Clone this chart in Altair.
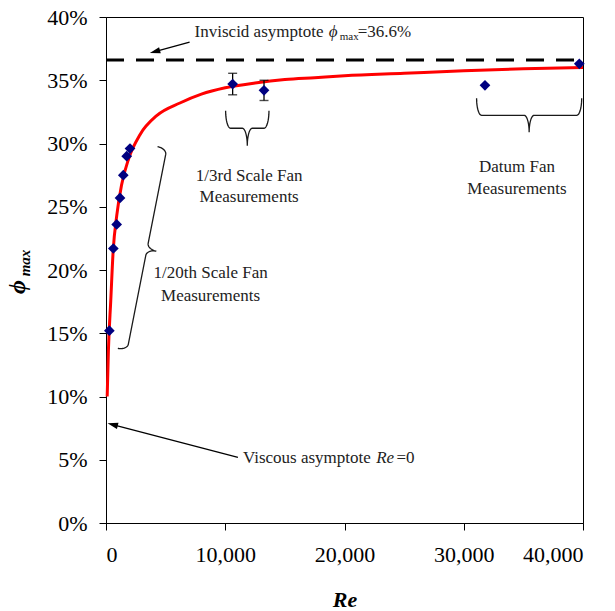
import altair as alt
import numpy as np
import pandas as pd

# ---------------------------------------------------------------- data
# 1/20th scale fan measurements
re_twentieth = [280, 615, 895, 1175, 1450, 1735, 2013]
phi_twentieth = [0.152, 0.217, 0.236, 0.257, 0.275, 0.290, 0.296]

# 1/3rd scale fan measurements (with error bars)
re_third = [10620, 13250]
phi_third = [0.347, 0.342]
err_third = [0.0085, 0.0080]

# Datum fan measurements
re_datum = [31780, 39690]
phi_datum = [0.346, 0.363]

# Fitted correlation curve
fit_re = [100, 200, 400, 600, 900, 1300, 1900, 2850, 4250, 6200, 8000,
          10000, 12500, 15000, 17500, 20000, 25000, 30000, 35000, 40000]
fit_phi = [0.100, 0.136, 0.176, 0.215, 0.243, 0.267, 0.288, 0.307, 0.322,
           0.332, 0.339, 0.344, 0.3478, 0.3505, 0.352, 0.3535, 0.3555,
           0.3575, 0.359, 0.360]

# Inviscid asymptote
phi_inviscid = 0.366

x_ticks = [0, 10000, 20000, 30000, 40000]
y_ticks = [0, 0.05, 0.10, 0.15, 0.20, 0.25, 0.30, 0.35, 0.40]

# ---------------------------------------------------------------- layout
W, H = 477, 506
X_MAX, Y_MAX = 40000, 0.40
FONT = "Liberation Serif"
NAVY = "#000080"

xs = alt.Scale(domain=[0, X_MAX], nice=False, zero=True)
ys = alt.Scale(domain=[0, Y_MAX], nice=False, zero=True)

x_axis = alt.Axis(values=x_ticks, format=",.0f", grid=False, tickSize=7,
                  labelFont=FONT, labelFontSize=22, labelColor="black",
                  labelPadding=14, domainColor="black", tickColor="black",
                  title="Re", titleFont=FONT, titleFontSize=22,
                  titleFontStyle="italic", titleFontWeight="bold",
                  titleColor="black", titleBaseline="alphabetic", titleY=83)
y_axis = alt.Axis(values=y_ticks, format=".0%", grid=False, tickSize=7,
                  labelFont=FONT, labelFontSize=22, labelColor="black",
                  labelPadding=12, domainColor="black", tickColor="black",
                  title=None)

X = alt.X("Re:Q", scale=xs, axis=x_axis)
Y = alt.Y("phi:Q", scale=ys, axis=y_axis)


def to_px(re, phi):
    return np.asarray(re) / X_MAX * W, H - np.asarray(phi) / Y_MAX * H


def to_data(px, py):
    return np.asarray(px) / W * X_MAX, (H - np.asarray(py)) / H * Y_MAX


def brace(a, b, depth, rs, bid, n=14):
    """Curly brace from data point a to b, tip bulging to the right of a->b."""
    ax, ay = to_px(*a)
    bx, by = to_px(*b)
    L = float(np.hypot(bx - ax, by - ay))
    ux, uy = (bx - ax) / L, (by - ay) / L
    nx, ny = -uy, ux
    rh = depth / 2.0
    t = np.linspace(0, np.pi / 2, n)
    s1 = rs - rs * np.cos(t)
    h1 = rh * np.sin(t)
    s2 = L / 2 - rs + rs * np.sin(t)
    h2 = 2 * rh - rh * np.cos(t)
    s = np.concatenate([s1, s2, (L - s2)[::-1], (L - s1)[::-1]])
    h = np.concatenate([h1, h2, h2[::-1], h1[::-1]])
    px = ax + s * ux + h * nx
    py = ay + s * uy + h * ny
    re, phi = to_data(px, py)
    return pd.DataFrame({"Re": re, "phi": phi, "order": np.arange(len(s)), "bid": bid})


# ---------------------------------------------------------------- layers
fit_df = pd.DataFrame({"Re": fit_re, "phi": fit_phi})
fit = alt.Chart(fit_df).mark_line(color="#ff0000", strokeWidth=3,
                                   interpolate="monotone").encode(x=X, y=Y)

asym_df = pd.DataFrame({"Re": [0, X_MAX], "phi": [phi_inviscid] * 2})
asym = alt.Chart(asym_df).mark_line(color="black", strokeWidth=2.8,
                                     strokeDash=[18, 12]).encode(x=X, y=Y)

third_df = pd.DataFrame({"Re": re_third, "phi": phi_third, "err": err_third})
third_df["lo"] = third_df["phi"] - third_df["err"]
third_df["hi"] = third_df["phi"] + third_df["err"]
err_rule = alt.Chart(third_df).mark_rule(color="black", strokeWidth=1.3).encode(
    x=X, y=alt.Y("lo:Q", scale=ys, axis=y_axis), y2="hi:Q")
cap_lo = alt.Chart(third_df).mark_tick(color="black", orient="horizontal",
                                        size=9, thickness=1.4).encode(
    x=X, y=alt.Y("lo:Q", scale=ys, axis=y_axis))
cap_hi = alt.Chart(third_df).mark_tick(color="black", orient="horizontal",
                                        size=9, thickness=1.4).encode(
    x=X, y=alt.Y("hi:Q", scale=ys, axis=y_axis))

pts_df = pd.DataFrame({
    "Re": re_twentieth + re_third + re_datum,
    "phi": phi_twentieth + phi_third + phi_datum,
})
pts = alt.Chart(pts_df).mark_point(shape="diamond", filled=True, size=115,
                                   color=NAVY, opacity=1).encode(x=X, y=Y)

braces_df = pd.concat([
    brace((991, 0.1381), (4323, 0.2975), 19, 6, "twentieth"),
    brace((10031, 0.3259), (13666, 0.3259), 35, 5, "third"),
    brace((31077, 0.3357), (39891, 0.3357), 34, 5, "datum"),
])
braces = alt.Chart(braces_df).mark_line(color="#1a1a1a", strokeWidth=1.3).encode(
    x=X, y=Y, order="order:Q", detail="bid:N")

# arrows: tail -> tip
arrows = [
    ((7010, 0.3802), (3695, 0.3715)),
    ((11064, 0.0519), (151, 0.0788)),
]
shaft_rows, head_rows = [], []
for i, (tail, tip) in enumerate(arrows):
    tx, ty = to_px(*tail)
    hx, hy = to_px(*tip)
    d = float(np.hypot(hx - tx, hy - ty))
    ux, uy = (hx - tx) / d, (hy - ty) / d
    bx, by = hx - 5 * ux, hy - 5 * uy
    re_b, phi_b = to_data(bx, by)
    shaft_rows += [{"Re": tail[0], "phi": tail[1], "aid": i, "order": 0},
                   {"Re": float(re_b), "phi": float(phi_b), "aid": i, "order": 1}]
    ang = (np.degrees(np.arctan2(ux, -uy)) + 360) % 360
    head_rows.append({"Re": float(re_b), "phi": float(phi_b), "ang": float(ang)})
shafts = alt.Chart(pd.DataFrame(shaft_rows)).mark_line(
    color="black", strokeWidth=1.3).encode(x=X, y=Y, order="order:Q", detail="aid:N")
heads = alt.Chart(pd.DataFrame(head_rows)).mark_point(
    shape="M0,-1L0.6,1L-0.6,1Z", filled=True, size=110, color="black",
    opacity=1).encode(x=X, y=Y, angle=alt.Angle("ang:Q", scale=None))


def label(text, re, phi, size=17, align="left", baseline="middle", **kw):
    df = pd.DataFrame({"Re": [re], "phi": [phi], "t": [text]})
    return alt.Chart(df).mark_text(font=FONT, fontSize=size, align=align,
                                   baseline=baseline, color="#222222", **kw
                                   ).encode(x=X, y=Y, text="t:N")


labels = [
    label("Inviscid asymptote", 7430, 0.3881),
    label("\u03d5", 18677, 0.3881, fontStyle="italic"),
    label("max", 19600, 0.3842, size=11),
    label("=36.6%", 21112, 0.3881),
    label("Viscous asymptote", 11484, 0.0514),
    label("Re", 22657, 0.0514, fontStyle="italic"),
    label("=0", 24361, 0.0514),
    label("1/3rd Scale Fan", 12004, 0.2747, align="center"),
    label("Measurements", 12004, 0.2577, align="center"),
    label("Datum Fan", 34460, 0.2814, align="center"),
    label("Measurements", 34460, 0.2644, align="center"),
    label("1/20th Scale Fan", 8772, 0.1976, align="center"),
    label("Measurements", 8772, 0.1798, align="center"),
]

# y-axis title: bold italic phi with subscript "max"
one = pd.DataFrame({"k": [0]})
ytitle_phi = alt.Chart(one).mark_text(
    text="\u03d5", font=FONT, fontSize=24, fontStyle="italic", fontWeight="bold",
    angle=270, align="center", baseline="middle", color="black").encode(
    x=alt.value(-88), y=alt.value(270))
ytitle_sub = alt.Chart(one).mark_text(
    text="max", font=FONT, fontSize=15, fontStyle="italic", fontWeight="bold",
    angle=270, align="center", baseline="middle", color="black").encode(
    x=alt.value(-81), y=alt.value(246))

chart = alt.layer(
    asym, fit, braces, err_rule, cap_lo, cap_hi, pts, shafts, heads,
    *labels, ytitle_phi, ytitle_sub,
).properties(
    width=W, height=H,
    autosize=alt.AutoSizeParams(type="none"),
    padding={"left": 106, "top": 17, "right": 32, "bottom": 88},
    background="white",
).configure_view(
    stroke="black", strokeWidth=1,
).configure_axis(
    domainWidth=1, tickWidth=1, labelFont=FONT, labelFontSize=22,
    labelColor="black",
)

chart.save("out.html", embed_options={"renderer": "svg", "actions": False})
